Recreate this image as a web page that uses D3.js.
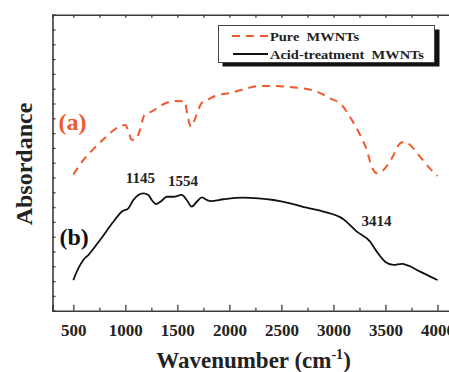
<!DOCTYPE html>
<html><head><meta charset="utf-8">
<script src="https://cdn.jsdelivr.net/npm/d3@7"></script>
<style>
html,body{margin:0;padding:0;background:#fff;overflow:hidden;}
svg{display:block;}
text{font-family:"Liberation Serif","Times New Roman",serif;font-weight:bold;}
</style></head>
<body>
<script>
// ---- data ----
const xTicksMajor = [500, 1000, 1500, 2000, 2500, 3000, 3500, 4000];
const xTicksMinor = [750, 1250, 1750, 2250, 2750, 3250, 3750];
const seriesNames = ["Pure  MWNTs", "Acid-treatment  MWNTs"];
const pureWave = [500, 600, 700, 800, 900, 960, 1000, 1035, 1060, 1100, 1130, 1190, 1250, 1350, 1480, 1570, 1600, 1630, 1660, 1690, 1730, 1785, 1862, 2023, 2167, 2295, 2408, 2552, 2696, 2840, 2968, 3080, 3177, 3256, 3320, 3368, 3417, 3481, 3561, 3641, 3689, 3737, 3833, 3929, 4000];
const pureAbs  = [9.2, 10.2, 10.97, 11.65, 12.26, 12.5, 12.55, 12.0, 11.55, 11.55, 12.0, 13.3, 13.45, 13.9, 14.17, 14.15, 13.1, 12.43, 12.8, 13.34, 14.0, 14.24, 14.51, 14.73, 15.03, 15.19, 15.19, 15.14, 15.03, 14.8, 14.35, 13.9, 12.88, 11.87, 10.86, 9.73, 9.28, 9.51, 10.3, 11.31, 11.42, 11.2, 10.4, 9.6, 9.1];
const acidWave = [500, 548, 596, 644, 757, 885, 965, 1029, 1077, 1125, 1173, 1221, 1254, 1295, 1350, 1398, 1462, 1542, 1590, 1638, 1686, 1735, 1783, 1820, 1943, 2135, 2279, 2423, 2584, 2744, 2904, 3096, 3225, 3353, 3417, 3497, 3577, 3657, 3721, 3833, 4000];
const acidAbs  = [2.07, 2.86, 3.43, 3.76, 4.78, 6.01, 6.69, 6.92, 7.48, 7.82, 7.93, 7.82, 7.48, 7.21, 7.43, 7.70, 7.70, 7.82, 7.48, 7.03, 7.36, 7.66, 7.48, 7.41, 7.53, 7.64, 7.59, 7.48, 7.26, 6.96, 6.69, 6.18, 5.34, 4.66, 3.99, 3.31, 3.09, 3.16, 3.04, 2.64, 2.07];
const peakLabels = ["1145", "1554", "3414"];
const peakWave = [1145, 1554, 3414];
const peakAbs = [8.6, 8.4, 5.7];

// ---- layout ----
const W = 449, H = 372;
const RED = "#F0592B", AXIS = "#3c3c3c";
const svg = d3.select("body").append("svg").attr("width", W).attr("height", H);
const x = d3.scaleLinear().domain([300, 4200]).range([52.5, 458.3]);
const y = d3.scaleLinear().domain([0, 20]).range([310.7, 14.7]);

const pure = pureWave.map((w, i) => ({w, a: pureAbs[i]}));
const acid = acidWave.map((w, i) => ({w, a: acidAbs[i]}));
const line = d3.line().x(d => x(d.w)).y(d => y(d.a)).curve(d3.curveMonotoneX);

// curves
svg.append("path").datum(pure).attr("d", line).attr("fill", "none")
  .attr("stroke", RED).attr("stroke-width", 2).attr("stroke-dasharray", "8,6");
svg.append("path").datum(acid).attr("d", line).attr("fill", "none")
  .attr("stroke", "#111").attr("stroke-width", 1.8);

// axes
const bottom = svg.append("g").attr("transform", `translate(0,${y(0)})`)
  .call(d3.axisBottom(x).tickValues(xTicksMajor).tickSize(-6).tickPadding(13).tickFormat(d3.format("d")));
svg.append("g").attr("transform", `translate(0,${y(0)})`)
  .call(d3.axisBottom(x).tickValues(xTicksMinor).tickSize(-3).tickFormat(""))
  .call(g => g.select(".domain").remove());
svg.append("g").attr("transform", `translate(0,${y(20)})`)
  .call(d3.axisTop(x).tickValues(xTicksMajor.concat(xTicksMinor)).tickSize(-3).tickFormat(""));
svg.append("g").attr("transform", `translate(${x(300)},0)`)
  .call(d3.axisLeft(y).ticks(20).tickSize(-3).tickFormat(""));
svg.selectAll(".domain").attr("stroke", AXIS).attr("stroke-width", 1.6);
svg.selectAll(".tick line").attr("stroke", AXIS).attr("stroke-width", 1.3);
bottom.selectAll(".tick text").attr("font-size", 17).attr("fill", "#222")
  .attr("font-family", "Liberation Serif, serif").attr("font-weight", "bold");

// axis titles
const xt = svg.append("text").attr("x", 253.5).attr("y", 368).attr("text-anchor", "middle")
  .attr("font-size", 23).attr("fill", "#222");
xt.append("tspan").text("Wavenumber (cm");
xt.append("tspan").text("-1").attr("font-size", 14).attr("dy", -9);
xt.append("tspan").text(")").attr("dy", 9);
svg.append("text").attr("transform", "translate(32,164) rotate(-90)").attr("text-anchor", "middle")
  .attr("font-size", 24).attr("fill", "#222").text("Absordance");

// series labels
svg.append("text").attr("x", 58.5).attr("y", 129.5).attr("font-size", 24).attr("fill", RED).text("(a)");
svg.append("text").attr("x", 59.5).attr("y", 245).attr("font-size", 24).attr("fill", "#111").text("(b)");

// peak labels
peakLabels.forEach((t, i) => {
  svg.append("text").attr("x", x(peakWave[i])).attr("y", y(peakAbs[i]))
    .attr("text-anchor", "middle").attr("font-size", 15).attr("fill", "#222").text(t);
});

// legend
const lg = svg.append("g");
lg.append("rect").attr("x", 222.5).attr("y", 29.5).attr("width", 217).attr("height", 37).attr("fill", "#111");
lg.append("rect").attr("x", 218.5).attr("y", 25.5).attr("width", 216).attr("height", 37)
  .attr("fill", "#fff").attr("stroke", "#444").attr("stroke-width", 1);
lg.append("line").attr("x1", 232).attr("x2", 268).attr("y1", 36).attr("y2", 36)
  .attr("stroke", RED).attr("stroke-width", 2).attr("stroke-dasharray", "8,6");
lg.append("line").attr("x1", 233).attr("x2", 268).attr("y1", 54).attr("y2", 54)
  .attr("stroke", "#111").attr("stroke-width", 1.8);
lg.append("text").attr("x", 270).attr("y", 40.5).attr("font-size", 12.5).attr("fill", "#222")
  .attr("textLength", 89).attr("lengthAdjust", "spacingAndGlyphs").attr("xml:space", "preserve").text(seriesNames[0]);
lg.append("text").attr("x", 270).attr("y", 58.5).attr("font-size", 12.5).attr("fill", "#222")
  .attr("textLength", 154).attr("lengthAdjust", "spacingAndGlyphs").attr("xml:space", "preserve").text(seriesNames[1]);
</script>
</body></html>
